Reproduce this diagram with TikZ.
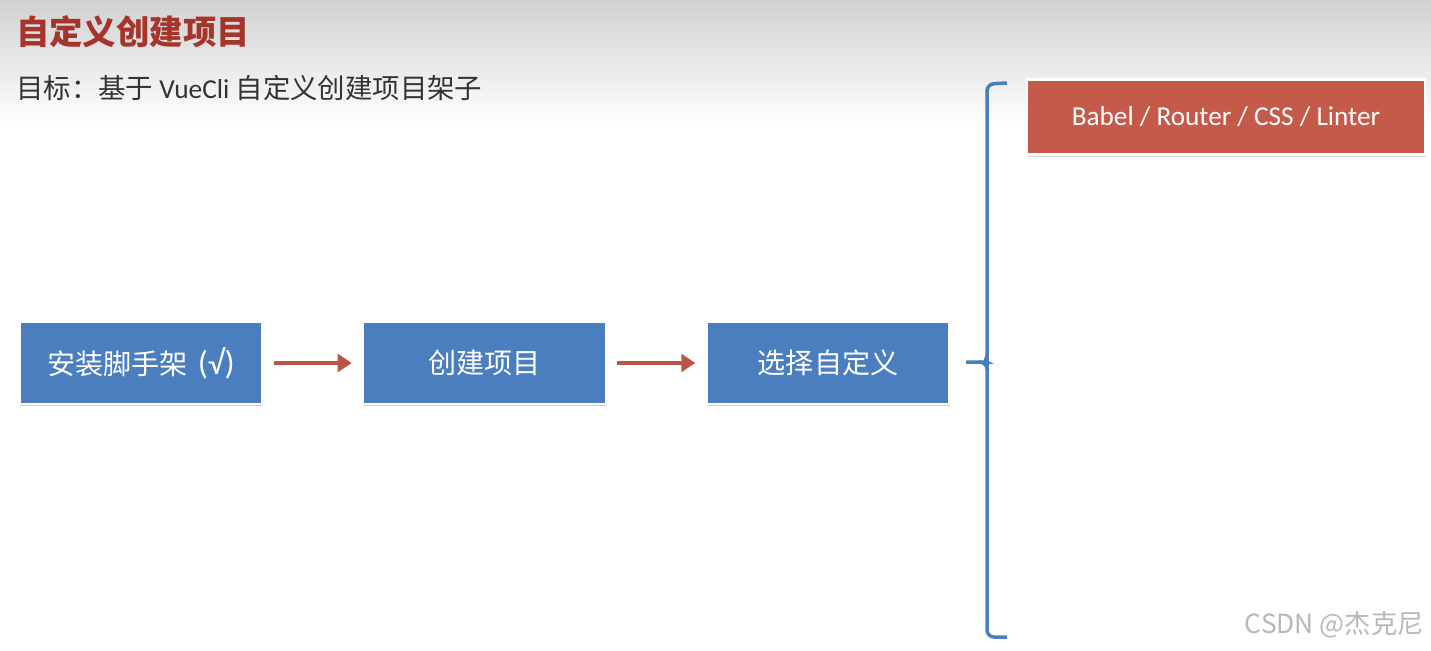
\documentclass[tikz,border=0pt]{standalone}
\usepackage{fontspec}
\setmainfont{Carlito}
\newfontfamily\cjk{Noto Sans CJK SC}
\usetikzlibrary{arrows.meta,positioning,shadows}
\definecolor{stepblue}{HTML}{4A7EBF}
\definecolor{optred}{HTML}{C55A4B}
\definecolor{titlered}{HTML}{A5342B}
\definecolor{bracecol}{HTML}{4A7EBF}
\tikzset{
	node distance = 1.96cm and 1.96cm,
	stepbox/.style = {rectangle, fill=stepblue, draw=white, line width=1.5pt,
		minimum width=4.86cm, minimum height=1.64cm, text=white,
		font=\cjk\fontsize{16}{18}\selectfont,
		drop shadow={shadow xshift=0.4pt, shadow yshift=-1.2pt, opacity=0.35}},
	optbox/.style = {stepbox, fill=optred, minimum width=7.96cm, minimum height=1.5cm,
		font=\fontsize{15.5}{18}\selectfont},
	flow/.style = {-{Triangle[length=8pt,width=10pt]}, line width=2.8pt, draw=optred!95!black},
	brace/.style = {draw=bracecol, line width=2pt, rounded corners=4pt}
}
\begin{document}
\begin{tikzpicture}[x=0.02cm,y=-0.02cm]
    \useasboundingbox (0,0) rectangle (1431,650);
    % header band
    \shade[top color=black!18, bottom color=white] (0,0) rectangle (1431,125);

    \node[anchor=west, text=titlered, font=\cjk\bfseries\fontsize{19}{22}\selectfont] (title) at (10,32) {自定义创建项目};
    \node[anchor=west, text=black!80, font=\fontsize{15.6}{18}\selectfont] (goal) at (10,88) {\cjk 目标：基于 \normalfont VueCli \cjk 自定义创建项目架子};

    % steps
    \node[stepbox] (1) at (141,363) {安装脚手架\hspace{0.35em}{\normalfont\fontsize{19}{20}\selectfont (√)}};
    \node[stepbox] (2) [right = of 1] {创建项目};
    \node[stepbox] (3) [right = of 2] {选择自定义};

    \draw[flow] ([xshift=0.2cm]1.east) -- ([xshift=-0.2cm]2.east -| 2.west);
    \draw[flow] ([xshift=0.2cm]2.east) -- ([xshift=-0.2cm]3.east -| 3.west);

    % brace
    \coordinate (bt) at (1007,83);
    \coordinate (bb) at (1007,637);
    \coordinate (bm) at (966,362);
    \path[brace] (bt) -- (987,84) -- (987,637) -- (bb);
    \path[brace] (bm) -- (979,362) to[out=0,in=-90] (987,355);
    \path[brace] (979,362) to[out=0,in=90] (987,369);

    \node[optbox] (4) at (1226,117) {Babel / Router / CSS / Linter};

    \node[anchor=east, text=black!28, font=\cjk\fontsize{15}{17}\selectfont] (mark) at (1430,625) {CSDN @杰克尼};
\end{tikzpicture}
\end{document}
